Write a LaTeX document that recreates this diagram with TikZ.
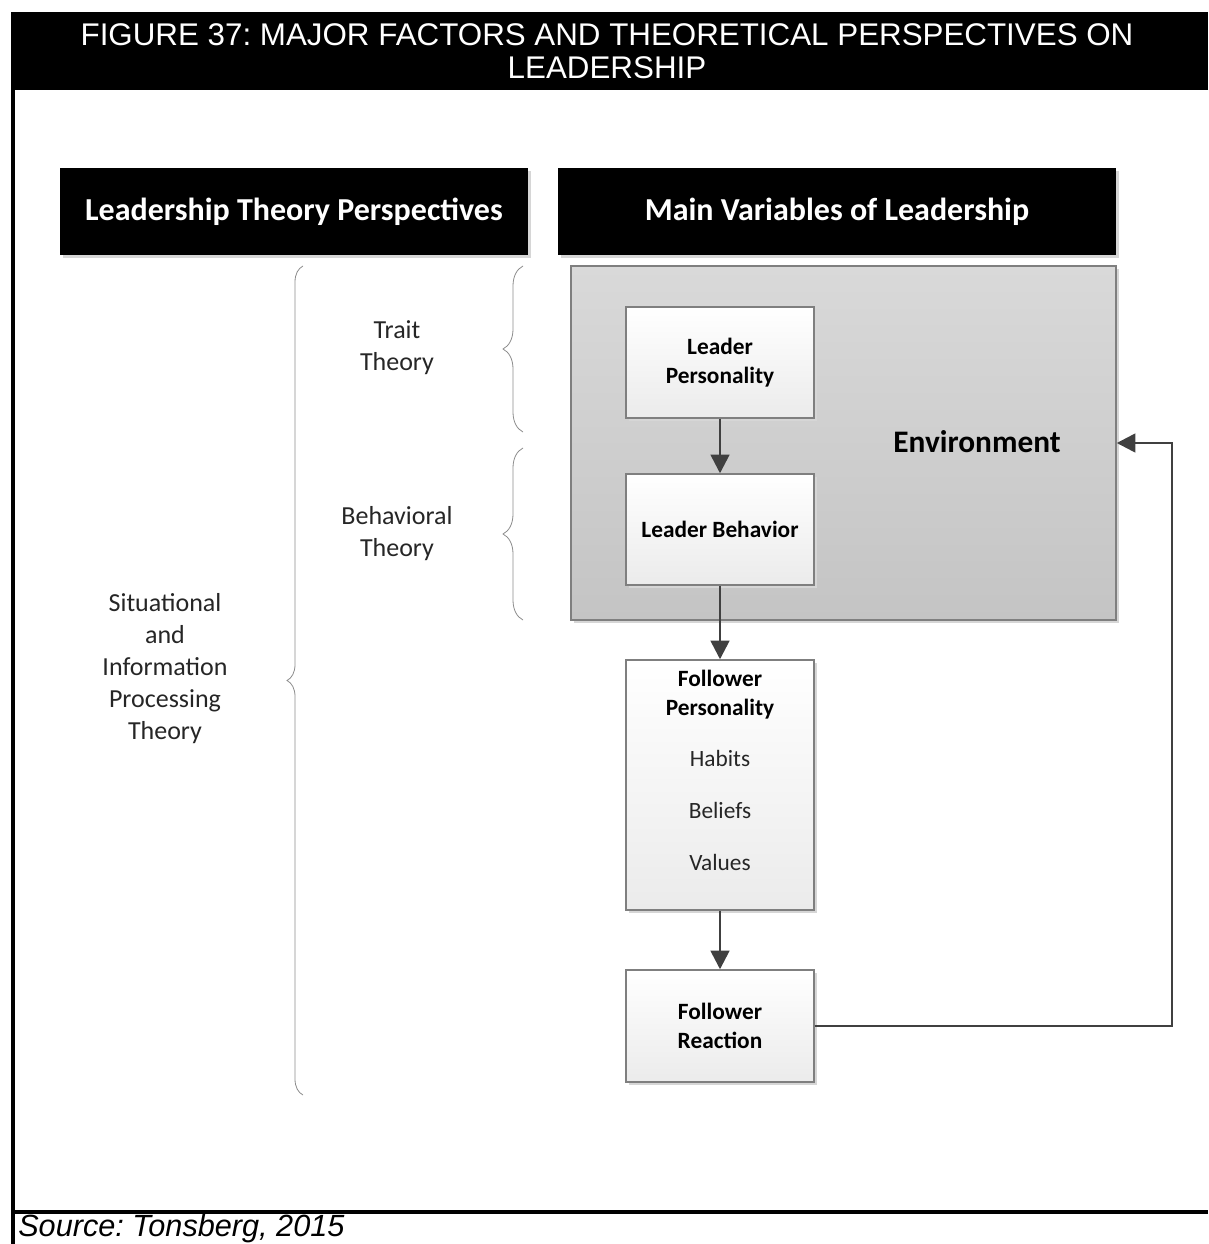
\documentclass[tikz,border=0pt]{standalone}
\usepackage{fontspec}
\setmainfont{Carlito}
\newfontfamily\arialfont{Liberation Sans}
\usetikzlibrary{arrows.meta,shadows,decorations.pathreplacing}
\frenchspacing

\definecolor{linegray}{HTML}{404040}
\definecolor{boxborder}{HTML}{7F7F7F}
\definecolor{envtop}{HTML}{D9D9D9}
\definecolor{envbottom}{HTML}{C4C4C4}
\definecolor{boxbottom}{HTML}{EBEBEB}

\tikzset{
  softshadow/.style={drop shadow={shadow xshift=2.5pt, shadow yshift=-2.5pt, fill=black!16, opacity=1}},
  hdrbox/.style={fill=black, text=white, inner sep=0pt, minimum height=65.25pt,
    font=\bfseries\fontsize{24}{28}\selectfont, softshadow},
  envbox/.style={draw=boxborder, line width=1.1pt, top color=envtop, bottom color=envbottom,
    minimum width=408.75pt, minimum height=265.5pt, inner sep=0pt, softshadow},
  varbox/.style={draw=boxborder, line width=1.1pt, top color=white, bottom color=boxbottom,
    minimum width=141pt, inner sep=0pt, align=center,
    font=\bfseries\fontsize{17.5}{21.75}\selectfont, softshadow},
  subitem/.style={font=\fontsize{17.5}{21}\selectfont, text=black!85},
  theory/.style={font=\fontsize{19.5}{24}\selectfont, align=center, text=black!85},
  conn/.style={draw=linegray, line width=2pt, -{Triangle[length=14pt,width=14pt]}},
  curly/.style={draw=black!45, line width=0.6pt, decorate,
    decoration={brace, amplitude=#1}},
}

\begin{document}
\begin{tikzpicture}[x=0.75pt,y=-0.75pt]
\useasboundingbox (0,0) rectangle (1208,1244);

% title band and frame
\fill[black] (11,12) rectangle (1208,90);
\node[text=white, align=center, font=\arialfont\fontsize{23.5}{25}\selectfont]
  (title) at (607,51) {FIGURE 37: MAJOR FACTORS AND THEORETICAL PERSPECTIVES ON\\LEADERSHIP};
\draw[line width=3pt] (13,90) -- (13,1244);
\draw[line width=2.5pt] (11,1212) -- (1208,1212);
\node[anchor=base west, inner sep=0pt, font=\arialfont\itshape\fontsize{23}{28}\selectfont]
  (source) at (18,1236) {Source: Tonsberg, 2015};

% column headers
\node[hdrbox, minimum width=351pt] (hdrL) at (294,211.5) {Leadership Theory Perspectives};
\node[hdrbox, minimum width=418.5pt] (hdrR) at (837,211.5) {Main Variables of Leadership};

% environment
\node[envbox] (env) at (843.5,443) {};
\node[font=\bfseries\fontsize{23.5}{28}\selectfont] (envlabel) at (977,442) {Environment};

% variables
\node[varbox, minimum height=83.25pt] (lp) at (720,362.5) {Leader\\Personality};
\node[varbox, minimum height=83.25pt] (lb) at (720,529.5) {Leader Behavior};
\node[varbox, minimum height=187.5pt] (fp) at (720,785) {};
\node[align=center, font=\bfseries\fontsize{17.5}{21.75}\selectfont] (fptitle) at (720,694.5) {Follower\\Personality};
\node[subitem] (habits) at (720,758) {Habits};
\node[subitem] (beliefs) at (720,810) {Beliefs};
\node[subitem] (values) at (720,862) {Values};
\node[varbox, minimum height=84pt] (fr) at (720,1026) {Follower\\Reaction};

% connectors
\draw[conn] (lp) -- (lb);
\draw[conn] (lb) -- (fp);
\draw[conn] (fp) -- (fr);
\coordinate (loop) at (1172,1026);
\draw[conn] (fr.east) -- (loop) |- (env.east);

% theory perspectives
\node[theory] (trait) at (397,348) {Trait\\Theory};
\node[theory] (behav) at (397,534) {Behavioral\\Theory};
\node[theory] (situ) at (165,669) {Situational\\and\\Information\\Processing\\Theory};
\draw[curly=15pt] (523,432) -- (523,266);
\draw[curly=15pt] (523,620) -- (523,448);
\draw[curly=12pt] (303,1095) -- (303,266);
\end{tikzpicture}
\end{document}
